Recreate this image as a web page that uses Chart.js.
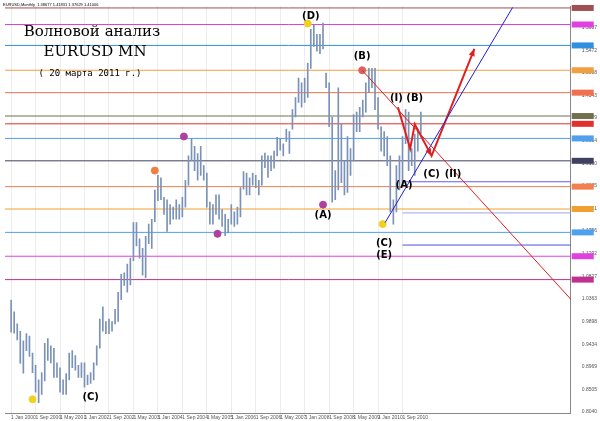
<!DOCTYPE html><html><head><meta charset="utf-8">
<script src="https://cdn.jsdelivr.net/npm/chart.js@4"></script>
<style>html,body{margin:0;padding:0;background:#fff}#w{width:600px;height:421px}</style></head><body>
<div id="w"><canvas id="c"></canvas></div>
<script>
const months=['Jan','Feb','Mar','Apr','May','Jun','Jul','Aug','Sep','Oct','Nov','Dec'];
const highs=[1.034,1.010,0.985,0.970,0.950,0.965,0.960,0.925,0.900,0.870,0.885,0.945,
0.955,0.940,0.935,0.905,0.895,0.870,0.883,0.925,0.930,0.920,0.900,0.905,
0.905,0.880,0.885,0.905,0.940,0.995,1.020,0.990,0.995,0.990,1.015,1.050,
1.087,1.090,1.108,1.120,1.193,1.193,1.160,1.140,1.165,1.190,1.200,1.260,
1.290,1.285,1.245,1.240,1.230,1.225,1.240,1.230,1.245,1.280,1.330,1.366,
1.350,1.335,1.350,1.310,1.295,1.235,1.230,1.250,1.250,1.220,1.210,1.200,
1.230,1.215,1.225,1.265,1.298,1.295,1.285,1.295,1.290,1.280,1.330,1.336,
1.330,1.330,1.340,1.368,1.365,1.355,1.385,1.380,1.425,1.450,1.490,1.480,
1.490,1.520,1.590,1.600,1.580,1.580,1.603,1.500,1.480,1.410,1.300,1.470,
1.395,1.320,1.370,1.345,1.415,1.420,1.430,1.445,1.480,1.510,1.510,1.510,
1.450,1.390,1.380,1.370,1.330,1.240,1.310,1.330,1.370,1.425,1.420,1.345,
1.375,1.385,1.420];
const lows=[0.968,0.966,0.952,0.904,0.884,0.930,0.918,0.885,0.845,0.823,0.840,0.868,
0.910,0.905,0.875,0.875,0.845,0.840,0.840,0.870,0.895,0.890,0.875,0.875,
0.855,0.860,0.863,0.870,0.900,0.935,0.970,0.965,0.965,0.970,0.985,0.990,
1.035,1.064,1.050,1.065,1.115,1.145,1.120,1.085,1.080,1.150,1.140,1.195,
1.238,1.240,1.210,1.175,1.190,1.200,1.200,1.200,1.205,1.225,1.270,1.320,
1.300,1.280,1.290,1.280,1.225,1.190,1.190,1.210,1.200,1.185,1.166,1.172,
1.190,1.185,1.190,1.205,1.262,1.250,1.250,1.270,1.265,1.250,1.270,1.306,
1.286,1.300,1.305,1.330,1.342,1.330,1.360,1.335,1.385,1.410,1.440,1.430,
1.440,1.450,1.510,1.555,1.545,1.540,1.550,1.470,1.390,1.235,1.240,1.260,
1.275,1.250,1.255,1.290,1.320,1.380,1.380,1.410,1.420,1.460,1.470,1.425,
1.385,1.340,1.330,1.310,1.215,1.190,1.215,1.260,1.270,1.355,1.300,1.310,
1.290,1.340,1.375];
const levels=[1.634,1.600,1.557,1.506,1.460,1.412,1.396,1.366,1.320,1.267,1.221,1.173,1.124,1.076];
const levelColors=['#a05050','#e040e0','#3090e0','#f0a040','#f07050','#707050','#e03030','#50a0f0','#404060','#f08050','#f0a030','#50a0f0','#e040e0','#c03090'];
const partialLevels=[1.277,1.213,1.147];
const partialColors=['#6060e0','#a0a0f0','#5050e0'];
const redTrend=[[114.8,1.506],[188.5,0.998]];
const blueTrend=[[122.3,1.193],[164,1.635]];
const arrow1=[[126.5,1.43],[130.5,1.345],[132,1.395],[137.5,1.33],[151.5,1.55]];
const waveLabels=[['(D)',98,1.617],['(B)',114.8,1.535],['(I)',126,1.448],['(B)',132,1.448],['(A)',102,1.208],['(A)',128.5,1.27],['(C)',137.5,1.293],['(II)',144.5,1.293],['(C)',122,1.15],['(E)',122,1.125],['(C)',26,0.834]];
const dots=[[7,0.83,'#f0d020'],[97,1.602,'#f0d020'],[121.5,1.19,'#f0d020'],[102,1.23,'#b040a0'],[67.5,1.17,'#b040a0'],[56.5,1.37,'#b040a0'],[114.8,1.506,'#e06060'],[47,1.30,'#f08040']];
const lbl=i=>{const m=((i%12)+12)%12,y=2000+Math.floor(i/12);return '1 '+months[m]+' '+y;};
const bars=highs.map((h,i)=>({x:i,y:[lows[i],h]}));
const ds=[{type:'bar',data:bars,backgroundColor:'#7a92b8',barThickness:1,order:5}];
levels.forEach((v,i)=>ds.push({type:'line',data:[{x:-2,y:v},{x:184,y:v}],borderColor:levelColors[i],borderWidth:1,pointRadius:0,order:9}));
partialLevels.forEach((v,i)=>ds.push({type:'line',data:[{x:128,y:v},{x:184,y:v}],borderColor:partialColors[i],borderWidth:1,pointRadius:0,order:9}));
ds.push({type:'line',data:redTrend.map(p=>({x:p[0],y:p[1]})),borderColor:'#e02020',borderWidth:1,pointRadius:0});
ds.push({type:'line',data:blueTrend.map(p=>({x:p[0],y:p[1]})),borderColor:'#2020d0',borderWidth:1,pointRadius:0});
ds.push({type:'line',data:arrow1.map(p=>({x:p[0],y:p[1]})),borderColor:'#e02020',borderWidth:2,pointRadius:0});
ds.push({type:'scatter',data:dots.map(d=>({x:d[0],y:d[1]})),pointBackgroundColor:dots.map(d=>d[2]),pointBorderColor:dots.map(d=>d[2]),pointRadius:3.5,order:0});
const annot={id:'annot',afterDatasetsDraw(ch){const c=ch.ctx,x=ch.scales.x,y=ch.scales.y;c.save();
c.fillStyle='#000';c.textAlign='center';c.textBaseline='middle';c.font='bold 10px "DejaVu Sans"';
waveLabels.forEach(l=>c.fillText(l[0],x.getPixelForValue(l[1]),y.getPixelForValue(l[2])));
c.font='15px "DejaVu Serif"';c.fillText('Волновой анализ',92,32);c.fillText('EURUSD MN',95,52);
c.font='9px "DejaVu Sans Mono"';c.fillText('( 20 марта 2011 г.)',90,74);
c.font='4px sans-serif';c.textAlign='left';c.fillStyle='#000';c.fillText('EURUSD,Monthly  1.38677 1.41831 1.37629 1.41006',3,5);
levels.forEach((v,i)=>{const py=y.getPixelForValue(v);c.fillStyle=levelColors[i];c.fillRect(x.right+1,py-3,22,6);});
const ah=(a,b)=>{const x1=x.getPixelForValue(a[0]),y1=y.getPixelForValue(a[1]),x2=x.getPixelForValue(b[0]),y2=y.getPixelForValue(b[1]);const t=Math.atan2(y2-y1,x2-x1);c.fillStyle='#e02020';c.beginPath();c.moveTo(x2,y2);c.lineTo(x2-8*Math.cos(t-0.4),y2-8*Math.sin(t-0.4));c.lineTo(x2-8*Math.cos(t+0.4),y2-8*Math.sin(t+0.4));c.fill();};
ah(arrow1[3],arrow1[4]);ah(arrow1[2],arrow1[3]);
c.restore();}};
new Chart(document.getElementById('c'),{data:{datasets:ds},plugins:[annot],options:{responsive:true,maintainAspectRatio:false,animation:false,
layout:{padding:{top:0,left:0,right:0,bottom:0}},
plugins:{legend:{display:false},tooltip:{enabled:false}},
scales:{x:{type:'linear',offset:false,min:-2,max:183,grid:{offset:false,color:'#ececec',tickLength:2},border:{color:'#888'},ticks:{align:'start',padding:0,autoSkip:false,maxRotation:0,font:{size:5},color:'#555',callback:(v)=>v>=0&&v<=130&&v%8===0?lbl(v):''},afterBuildTicks:a=>{a.ticks=[];for(let v=0;v<=128;v+=8)a.ticks.push({value:v});}},
y:{position:'right',min:0.802,max:1.638,grid:{display:false},border:{color:'#888'},afterBuildTicks:a=>{a.ticks=[];for(let v=0.8040;v<=1.638;v+=0.04645)a.ticks.push({value:v});},ticks:{font:{size:5},color:'#555',callback:v=>v.toFixed(4)}}}}});
</script></body></html>
